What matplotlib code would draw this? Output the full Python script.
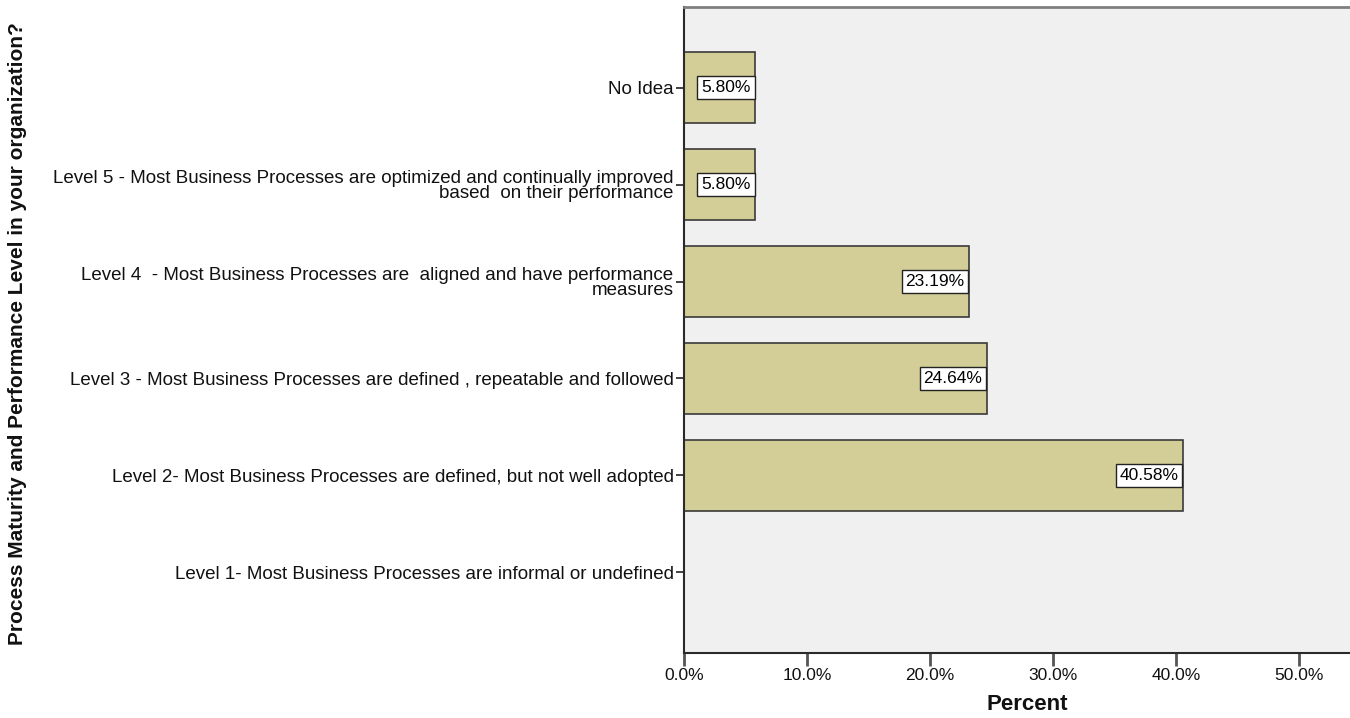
import matplotlib
matplotlib.use("Agg")
import matplotlib.pyplot as plt
from matplotlib.ticker import FuncFormatter, MultipleLocator

# Response categories, listed from the bottom of the chart to the top
categories = [
    "Level 1- Most Business Processes are informal or undefined",
    "Level 2- Most Business Processes are defined, but not well adopted",
    "Level 3 - Most Business Processes are defined , repeatable and followed",
    "Level 4  - Most Business Processes are  aligned and have performance\nmeasures",
    "Level 5 - Most Business Processes are optimized and continually improved\nbased  on their performance",
    "No Idea",
]
percent = [0.0, 40.58, 24.64, 23.19, 5.80, 5.80]
value_labels = ["", "40.58%", "24.64%", "23.19%", "5.80%", "5.80%"]

bar_color = "#D3CE98"
panel_color = "#F0F0F0"

W, H = 1350, 718
fig = plt.figure(figsize=(W / 100, H / 100), dpi=100)
fig.patch.set_facecolor("white")

ax_left, ax_right = 684 / W, 1.0
ax_bottom, ax_top = 1 - 653 / H, 1 - 7 / H
ax = fig.add_axes([ax_left, ax_bottom, ax_right - ax_left, ax_top - ax_bottom])
ax.set_facecolor(panel_color)

font = "Liberation Sans"
label_size = 13.5
pos = list(range(len(categories)))

ax.barh(pos, percent, height=0.74, color=bar_color,
        edgecolor="#3a3a3a", linewidth=1.2, zorder=2)

# value boxes sit flush against the end of each bar
box_pad = 0.22
for p, v, lab in zip(pos, percent, value_labels):
    if v <= 0:
        continue
    ax.annotate(lab, xy=(v, p), xytext=(-box_pad * 12.5 - 0.6, 0),
                textcoords="offset points", ha="right", va="center",
                fontsize=12.5, family=font, color="black", zorder=3,
                bbox=dict(boxstyle=f"square,pad={box_pad}", facecolor="white",
                          edgecolor="#222222", linewidth=1.0))

ax.set_xlim(0, (W - 684) / 12.3)
ax.set_ylim(-0.83, 5.83)

ax.set_yticks(pos)
ax.set_yticklabels(categories, fontsize=label_size, family=font,
                   linespacing=0.9, color="#111111")
ax.xaxis.set_major_locator(MultipleLocator(10))
ax.xaxis.set_major_formatter(FuncFormatter(lambda x, _: f"{x:.1f}%"))
for t in ax.get_xticklabels():
    t.set_fontsize(12.5)
    t.set_family(font)
    t.set_color("#111111")

ax.tick_params(axis="y", length=6, width=1.2, color="#222222", pad=1.5)
ax.tick_params(axis="x", length=9, width=2, color="#555555", pad=2)

for side in ("left", "bottom"):
    ax.spines[side].set_color("#2a2a2a")
    ax.spines[side].set_linewidth(1.5)
ax.spines["top"].set_color("#808080")
ax.spines["top"].set_linewidth(2.0)
ax.spines["right"].set_visible(False)

fig.text(1027 / W, 1 - 704 / H, "Percent", ha="center", va="center",
         fontsize=16, fontweight="bold", family=font, color="#111111")
fig.text(18 / W, 1 - 334 / H,
         "Process Maturity and Performance Level in your organization?",
         rotation=90, ha="center", va="center", fontsize=15,
         fontweight="bold", family=font, color="#111111")

fig.savefig("out.png", dpi=100, facecolor="white")
